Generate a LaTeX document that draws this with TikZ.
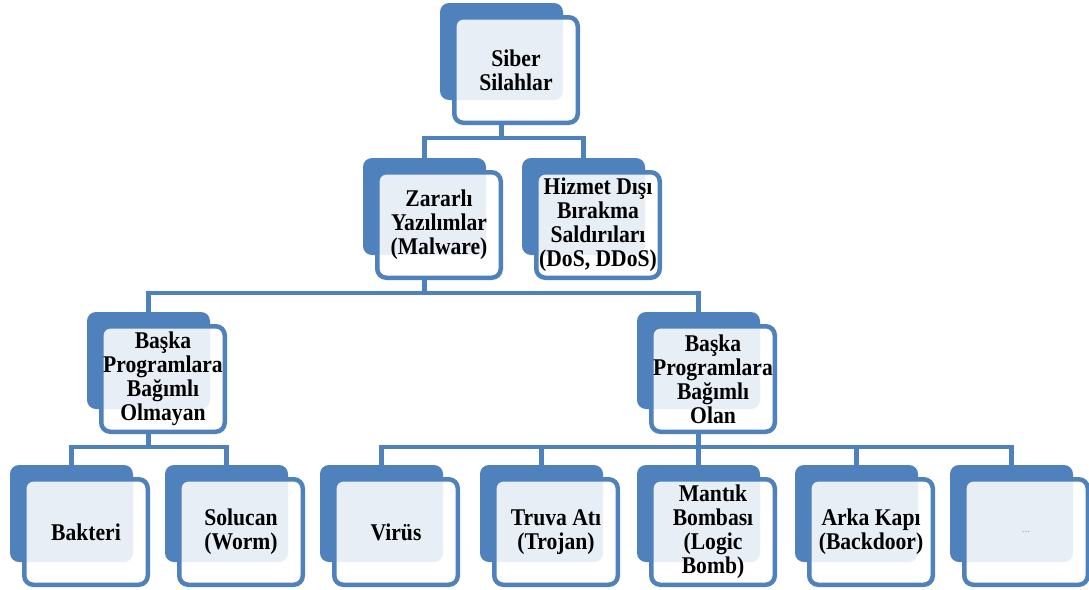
\documentclass[tikz,border=0pt]{standalone}
\usepackage{fontspec}
\newfontfamily\boxfont[FakeStretch=0.9]{Liberation Serif}
\definecolor{sablue}{HTML}{4F81BD}
\begin{document}
\begin{tikzpicture}[x=1pt,y=-1pt,
  backbox/.style={fill=sablue, rounded corners=9pt, minimum width=123pt, minimum height=97pt, inner sep=0pt},
  frontbox/.style={draw=sablue, line width=4.5pt, fill=white, fill opacity=0.87, text opacity=1,
    rounded corners=9pt, minimum width=123.5pt, minimum height=105.5pt, inner sep=0pt,
    align=center, font=\boxfont\bfseries\fontsize{24}{24}\selectfont},
  conn/.style={draw=sablue, line width=4.5pt}]
\useasboundingbox (0,0) rectangle (1089,589);
\newcommand\smbox[4]{%
  \node[backbox] (#1B) at (#2+61.5,#3+48.5) {};
  \node[frontbox] (#1) at (#2+76,#3+67) {#4};}
% boxes
\smbox{siber}{440}{3}{Siber\\Silahlar}
\smbox{zararli}{363}{158}{Zararlı\\Yazılımlar\\(Malware)}
\smbox{hizmet}{522}{158}{Hizmet Dışı\\Bırakma\\Saldırıları\\(DoS, DDoS)}
\smbox{baskaL}{87}{312}{Başka\\Programlara\\Bağımlı\\Olmayan}
\smbox{baskaR}{637}{312}{Başka\\Programlara\\Bağımlı\\Olan}
\smbox{bakteri}{10}{465}{Bakteri}
\smbox{solucan}{165}{465}{Solucan\\(Worm)}
\smbox{virus}{320}{465}{Virüs}
\smbox{truva}{480}{465}{Truva Atı\\(Trojan)}
\smbox{mantik}{637}{465}{Mantık\\Bombası\\(Logic\\Bomb)}
\smbox{arka}{795}{465}{Arka Kapı\\(Backdoor)}
\smbox{dots}{950}{465}{\fontsize{12}{12}\selectfont\mdseries\color{gray!70}...}
% connectors
\draw[conn] (siberB.center |- siber.south) -- (siberB.center |- 0,138) -| (zararliB.north);
\draw[conn] (siberB.center |- 0,138) -| (hizmetB.north);
\draw[conn] (zararliB.center |- zararli.south) -- (zararliB.center |- 0,293) -| (baskaLB.north);
\draw[conn] (zararliB.center |- 0,293) -| (baskaRB.north);
\draw[conn] (baskaLB.center |- baskaL.south) -- (baskaLB.center |- 0,447) -| (bakteriB.north);
\draw[conn] (baskaLB.center |- 0,447) -| (solucanB.north);
\draw[conn] (baskaRB.center |- baskaR.south) -- (baskaRB.center |- 0,447) -| (virusB.north);
\draw[conn] (baskaRB.center |- 0,447) -| (truvaB.north);
\draw[conn] (baskaRB.center |- 0,447) -- (mantikB.north);
\draw[conn] (baskaRB.center |- 0,447) -| (arkaB.north);
\draw[conn] (baskaRB.center |- 0,447) -| (dotsB.north);
\end{tikzpicture}
\end{document}
